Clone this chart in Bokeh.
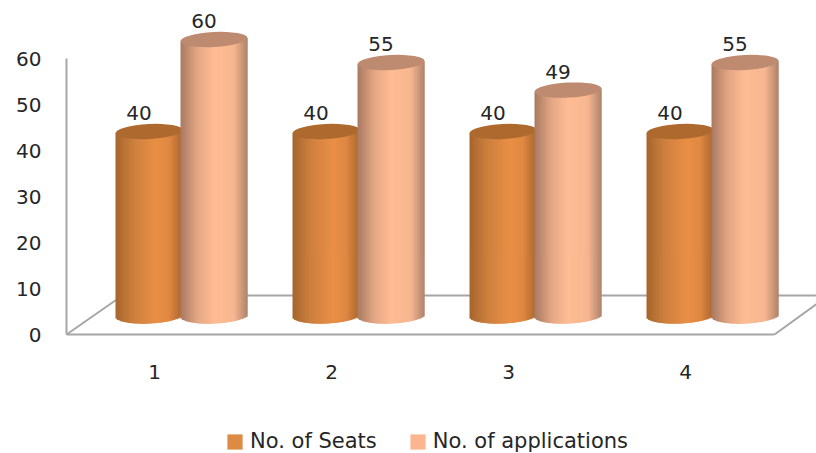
from bokeh.plotting import figure
from bokeh.models import ColumnDataSource, FixedTicker, Legend, LegendItem, LabelSet
from bokeh.core.properties import value
from bokeh.embed import file_html
from bokeh.resources import INLINE
import math

categories = [1, 2, 3, 4]
tick_labels = ["1", "2", "3", "4"]
seats = [40, 40, 40, 40]
applications = [60, 55, 49, 55]
y_ticks = [0, 10, 20, 30, 40, 50, 60]
series_names = ["No. of Seats", "No. of applications"]

PXX = 177.0        # px per category
PXY = 4.6          # px per value unit
W, H = 816, 453
LEFT = 66          # frame left
Y0 = 334           # image y of value 0
X1 = 154           # image x of category 1

x_start = 1 + (LEFT - X1) / PXX
x_end = 1 + (W - X1) / PXX

p = figure(width=W, height=H, output_backend="svg", toolbar_location=None,
           x_range=(x_start, x_end), y_range=((Y0 - H) / PXY, Y0 / PXY),
           x_axis_location="below", y_axis_location="left",
           min_border_left=LEFT, min_border_right=0, min_border_top=0, min_border_bottom=0)
p.grid.visible = False
p.outline_line_color = None
p.background_fill_color = "white"

AXC = "#A6A6A6"
FONT = "DejaVu Sans"
TXT = "#262626"

for ax, ticks in ((p.yaxis[0], y_ticks), (p.xaxis[0], categories)):
    ax.ticker = FixedTicker(ticks=ticks)
    ax.axis_line_color = AXC
    ax.axis_line_width = 2
    ax.major_tick_line_color = None
    ax.minor_tick_line_color = None
    ax.major_tick_out = 0
    ax.major_tick_in = 0
    ax.major_label_text_font = FONT
    ax.major_label_text_font_size = "20px"
    ax.major_label_text_color = TXT
x_left = 1 + (LEFT - X1) / PXX
x_right = 1 + (774 - X1) / PXX
p.yaxis[0].bounds = (0, 60)
p.yaxis[0].major_label_standoff = 25
p.xaxis[0].bounds = (x_left, x_right)
p.xaxis[0].fixed_location = 0
p.xaxis[0].major_label_standoff = 30
p.xaxis[0].major_label_overrides = {c: t for c, t in zip(categories, tick_labels)}

# 3-D floor
back = (Y0 - 295) / PXY
p.line([x_left, x_left + 56 / PXX], [0, back], line_color=AXC, line_width=2)
p.line([x_left + 56 / PXX, x_end], [back, back], line_color=AXC, line_width=2)
p.line([x_right, x_right + 54 / PXX], [0, back], line_color=AXC, line_width=2)

# cylinders
shift = 27 / PXX
half = 33.5 / PXX
off = 32.5 / PXX
base = (Y0 - 315) / PXY
ell_h = 8.0 / PXY
top_h = 7.5 / PXY
tilt = 1.6 / PXY
label_dx = -10 / PXX

STOPS_A = [(0.0, (0xA6, 0x65, 0x2C)), (0.25, (0xCB, 0x7E, 0x3E)), (0.6, (0xE9, 0x8F, 0x46)),
           (0.8, (0xDF, 0x88, 0x42)), (1.0, (0xA8, 0x66, 0x2E))]
STOPS_B = [(0.0, (0xA8, 0x7A, 0x62)), (0.25, (0xE3, 0xA6, 0x84)), (0.5, (0xFF, 0xBC, 0x94)),
           (0.8, (0xF5, 0xB6, 0x90)), (1.0, (0xAE, 0x82, 0x6A))]


def shade(stops, t):
    for (t0, c0), (t1, c1) in zip(stops, stops[1:]):
        if t <= t1:
            f = (t - t0) / (t1 - t0)
            return "#%02x%02x%02x" % tuple(round(a + (b - a) * f) for a, b in zip(c0, c1))
    return "#%02x%02x%02x" % stops[-1][1]


def cylinders(vals, sign, stops, top_color, body_color):
    xs = [c + shift + sign * off for c in categories]
    body = p.vbar(x=xs, top=[v + base for v in vals], bottom=base, width=2 * half - 4 / PXX,
                  fill_color=body_color, line_color=None)
    n = 44
    left, right, top, bottom, color = [], [], [], [], []
    for xc, v in zip(xs, vals):
        for i in range(n):
            a, b = -1 + 2 * i / n, -1 + 2 * (i + 1) / n
            m = (a + b) / 2
            left.append(xc + a * half)
            right.append(xc + min(1.0, b + 2 / n) * half)
            top.append(v + base + m * tilt)
            bottom.append(base - ell_h * math.sqrt(max(0.0, 1 - m * m)) + m * tilt)
            color.append(shade(stops, (m + 1) / 2))
    p.quad(left="l", right="r", top="t", bottom="b", fill_color="c", line_color=None,
           source=ColumnDataSource(dict(l=left, r=right, t=top, b=bottom, c=color)))
    p.ellipse(x=xs, y=[v + base for v in vals], width=2 * half, height=2 * top_h, angle=0.05,
              fill_color=top_color, line_color=None)
    src = ColumnDataSource(dict(x=[x + label_dx for x in xs], y=[v + base + top_h for v in vals],
                                t=[str(v) for v in vals]))
    p.add_layout(LabelSet(x="x", y="y", text="t", source=src, text_align="center", text_baseline="bottom",
                          y_offset=4, text_font=value(FONT), text_font_size=value("20px"),
                          text_color=value(TXT)))
    return body


b1 = cylinders(seats, -1, STOPS_A, "#AE6A2E", "#DD8A44")
b2 = cylinders(applications, 1, STOPS_B, "#BE8B70", "#FCB68F")

legend = Legend(items=[LegendItem(label=series_names[0], renderers=[b1]),
                       LegendItem(label=series_names[1], renderers=[b2])],
                orientation="horizontal", location=(159, 0), border_line_color=None,
                background_fill_alpha=0, padding=0, spacing=31, margin=0,
                glyph_width=19, glyph_height=19, label_standoff=6, label_height=19,
                label_text_font=FONT, label_text_font_size="21px", label_text_color=TXT)
p.add_layout(legend)

open("out.html", "w").write(file_html(p, INLINE))
